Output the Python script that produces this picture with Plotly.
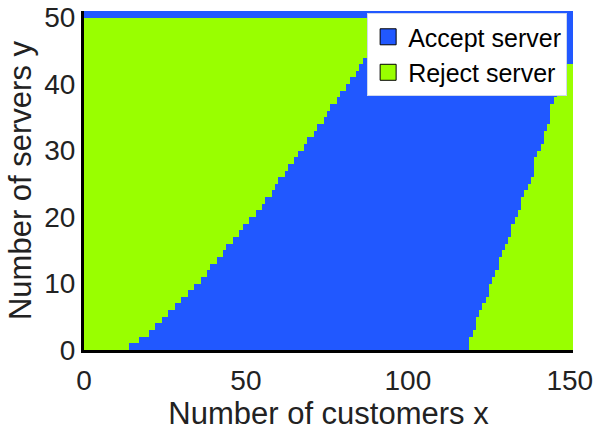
import plotly.graph_objects as go

# Number of customers (columns 0..150) and servers (rows 0..50)
customers = list(range(0, 151))
servers = list(range(0, 51))

# First customer count (per server row) where "Accept server" begins
accept_start = [14, 17, 20, 22, 24, 26, 28, 30, 32, 34,
                36, 38, 39, 41, 43, 44, 46, 48, 49, 51,
                53, 55, 56, 58, 59, 60, 62, 63, 65, 66,
                68, 69, 71, 72, 74, 75, 76, 78, 79, 81,
                82, 84, 85, 86, 88, 89, 90, 92, 93, 94,
                0]
# First customer count (per server row) where "Reject server" resumes (151 = never)
accept_end = [119, 119, 120, 121, 121, 122, 123, 124, 125, 125,
              126, 127, 128, 128, 129, 130, 131, 132, 132, 133,
              134, 135, 135, 136, 137, 138, 139, 139, 139, 140,
              141, 142, 142, 143, 144, 144, 144, 145, 146, 147,
              147, 148, 149, 151, 151, 151, 151, 151, 151, 151,
              151]

series_names = ["Accept server", "Reject server"]
BLUE = "#2158ff"
GREEN = "#99ff00"

z = []
for r, y in enumerate(servers):
    z.append([1 if accept_start[r] <= c < accept_end[r] else 0 for c in customers])

x_edges = customers + [customers[-1] + 1]
y_edges = servers + [servers[-1] + 1]

fig = go.Figure()
fig.add_trace(go.Heatmap(
    x=x_edges, y=y_edges, z=z,
    zmin=0, zmax=1,
    colorscale=[[0, GREEN], [0.5, GREEN], [0.5, BLUE], [1, BLUE]],
    showscale=False, hoverinfo="skip", showlegend=False,
))
for name, col in zip(series_names, [BLUE, GREEN]):
    fig.add_trace(go.Scatter(
        x=[None], y=[None], mode="markers", name=name,
        marker=dict(symbol="square", size=16, color=col,
                    line=dict(color="black", width=1)),
    ))

FONT = "Liberation Sans, Arial, sans-serif"
fig.update_layout(
    width=596, height=436,
    margin=dict(l=84, r=23, t=11, b=86),
    paper_bgcolor="white", plot_bgcolor="white",
    font=dict(family=FONT, color="#222222"),
    showlegend=True,
    legend=dict(
        x=0.988, y=0.994, xanchor="right", yanchor="top",
        bgcolor="white", bordercolor="#cfd8ee", borderwidth=1,
        font=dict(size=25, color="black", family=FONT),
        itemwidth=30, tracegroupgap=0,
    ),
    xaxis=dict(
        range=[0, 151], tickvals=[0, 50, 100, 150],
        ticks="outside", ticklen=3, tickcolor="rgba(0,0,0,0)",
        tickfont=dict(size=28), showgrid=False, zeroline=False,
        showline=True, linecolor="black", linewidth=3, automargin=False,
        ticklabeloverflow="allow",
        title=dict(text="Number of customers x", font=dict(size=31), standoff=0),
    ),
    yaxis=dict(
        range=[0, 51], tickvals=[0, 10, 20, 30, 40, 50],
        ticks="", tickfont=dict(size=28), showgrid=False, zeroline=False,
        showline=True, linecolor="black", linewidth=3, automargin=False,
        ticklabeloverflow="allow",
        title=dict(text="Number of servers y", font=dict(size=31), standoff=4),
    ),
)

fig.write_html("out.html",
               config={"displayModeBar": False},
               post_script="document.body.style.margin='0';document.body.style.overflow='hidden';")
